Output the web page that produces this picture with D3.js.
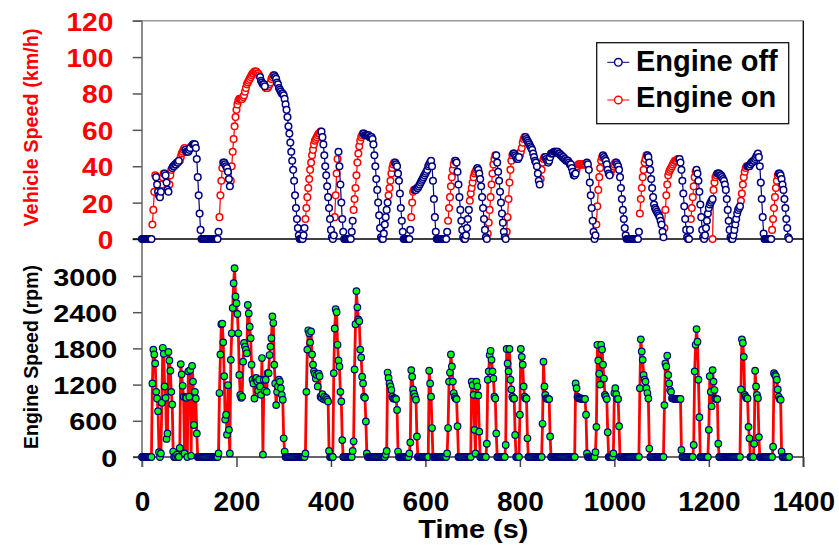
<!DOCTYPE html>
<html><head><meta charset="utf-8">
<script src="https://cdn.jsdelivr.net/npm/d3@7"></script>
<style>
html,body{margin:0;padding:0;background:#fff;}
svg{display:block;}
</style></head><body>
<svg id="chart" width="839" height="548"></svg>
<script>
// ---------------- DATA (one sample every 2 s) ----------------
const sampleStep = 2; // seconds between samples
// Vehicle speed (km/h)
const vehicleSpeed = [
0,0,0,0,0,0,0,0,0,0,0,8,16,26,35,34,30,26,24,23,
26,30,34,36,36,35,31,27,26,30,35,38,39,40,40,41,41,42,42,43,
43,45,47,48,49,50,49,48,48,48,49,50,51,51,52,52,52,50,44,34,
24,14,5,0,0,0,0,0,0,0,0,0,0,0,0,0,0,0,0,0,
0,4,12,24,32,39,42,42,41,40,39,37,33,29,32,40,48,55,62,67,
71,74,76,77,77,77,77,78,79,81,83,85,86,87,88,89,90,91,91,92,
92,92,91,91,90,89,87,86,85,85,84,83,83,83,84,85,86,88,89,90,
90,89,88,86,85,83,82,81,80,80,79,77,74,71,67,62,58,53,48,43,
38,32,24,17,11,6,2,0,0,0,0,2,6,11,17,23,28,33,38,42,
46,49,52,54,55,56,57,58,58,59,59,56,52,46,40,35,29,23,17,11,
5,1,0,2,12,24,36,44,48,40,30,20,11,4,0,0,0,0,0,0,
0,0,4,10,16,22,28,35,42,47,51,54,56,57,58,58,57,57,57,57,
57,56,56,56,55,52,46,40,33,27,20,13,6,1,0,0,3,8,12,16,
20,24,28,32,36,39,41,42,42,41,40,36,32,25,17,10,4,0,0,0,
0,0,0,0,5,12,20,26,27,27,27,28,28,29,30,31,32,33,34,35,
36,37,38,40,41,42,43,40,32,22,12,4,0,0,0,0,0,0,0,0,
0,0,0,4,10,17,23,29,34,38,41,43,43,42,37,30,23,16,10,5,
1,0,0,2,6,11,16,21,25,28,31,34,36,37,38,39,38,36,33,29,
23,17,11,5,1,0,3,9,16,23,30,36,41,44,46,46,42,37,32,26,
20,14,9,4,1,0,4,12,22,31,38,43,46,47,47,46,45,44,44,45,
46,48,50,53,55,56,56,55,54,53,52,51,50,49,47,45,43,42,40,36,
32,30,33,38,42,44,45,45,44,43,42,43,45,47,47,47,48,48,48,48,
48,47,47,46,46,45,45,44,44,43,43,43,42,41,41,39,37,35,35,36,
38,40,41,41,41,41,41,41,41,41,41,42,41,38,31,24,17,10,4,0,
2,8,18,27,34,39,43,45,46,45,44,43,41,38,36,35,36,38,39,40,
41,42,42,41,40,38,34,28,22,16,11,6,2,0,0,0,0,0,0,0,
0,0,0,0,0,0,4,14,22,28,34,38,42,44,46,46,45,42,38,33,
28,23,19,17,16,15,14,13,12,10,8,4,1,6,16,24,30,35,37,38,
39,40,41,42,43,43,43,44,44,44,42,38,32,25,18,11,5,1,0,0,
5,11,17,23,29,34,37,38,36,32,26,19,12,5,1,0,2,6,10,14,
17,19,20,21,22,27,31,34,35,36,36,36,35,35,34,33,32,30,27,22,
16,10,5,1,0,0,2,5,8,11,14,16,17,18,21,25,30,34,37,39,
40,40,40,40,41,42,42,43,43,44,45,46,47,45,40,31,22,12,3,0,
0,0,0,0,0,0,0,5,11,17,23,28,32,35,36,36,35,33,30,27,
22,17,11,6,1,0
];
// Engine speed (rpm)
const engineSpeed = [
0,0,0,0,0,0,0,0,0,0,0,1220,1780,1700,1550,1080,970,760,80,0,
60,900,1810,1710,1170,980,300,390,1740,1600,1430,1080,870,90,0,0,0,40,0,0,
150,1540,1370,1180,1000,60,990,980,0,1420,1000,1440,20,1510,1250,530,1080,970,390,0,
0,0,0,0,0,0,0,0,0,0,0,0,0,0,0,0,0,0,0,0,
0,60,1060,1700,2200,2210,1900,1340,620,700,370,1190,450,60,1610,2050,2470,2880,3130,2660,
2550,2370,2050,1360,1030,980,1000,1580,1890,1830,1780,1720,2520,2380,2160,1970,1530,1280,1220,970,
1300,1310,1250,1100,1280,1170,1030,1640,40,1280,1100,1280,1080,1390,1390,1690,1830,1970,2330,2220,
1530,1220,860,1080,1170,1280,1250,1140,1030,950,310,90,0,0,0,0,0,0,0,0,
0,0,0,0,0,0,0,0,0,0,0,0,0,60,1080,1780,2100,2050,1900,2080,
1700,1530,1420,1380,1300,1360,1170,1380,1340,1000,980,1040,960,1000,950,980,950,920,100,0,
0,0,0,1390,2130,2450,2400,1860,1600,1500,1080,920,280,0,0,0,0,0,0,0,
0,0,0,100,260,1450,2200,2750,2480,2280,2250,1780,1650,1330,1220,1000,980,590,60,0,
0,0,0,0,0,0,0,0,0,0,0,0,0,0,0,0,0,0,40,100,
1400,1310,1220,1170,1110,1000,970,970,970,960,780,90,0,0,0,0,0,0,0,0,
0,0,0,60,240,1440,1330,1120,1050,1000,950,340,0,0,0,0,0,0,0,0,
0,0,0,0,1430,1220,1000,480,0,0,0,0,0,0,0,0,0,0,0,0,
0,0,0,60,480,1250,1400,1700,1500,1250,1060,1000,970,960,510,0,0,0,0,0,
0,0,0,0,0,0,0,0,0,1250,1190,1030,450,60,1250,1170,1020,420,0,0,
0,0,0,0,0,220,1280,1420,1690,1760,1610,1420,1300,1000,970,390,0,0,0,0,
0,0,0,0,0,200,1790,1550,1420,1790,1280,1120,1000,970,970,365,0,0,0,0,
700,1790,1660,1530,1170,1000,970,970,310,0,0,0,0,0,0,0,0,0,0,0,
0,0,0,0,550,1580,1170,1030,970,970,960,960,340,0,0,0,0,0,0,0,
0,0,0,0,0,0,0,0,0,0,0,0,0,0,0,0,0,0,0,1220,
1140,1000,980,970,970,970,965,965,962,962,700,60,0,0,0,0,0,0,0,0,
80,500,1860,1600,1380,1200,1860,1780,1530,1300,1030,1000,960,410,0,0,0,0,0,60,
1060,1140,1040,965,962,510,0,0,0,0,0,0,0,0,0,0,0,0,0,0,
0,0,0,0,0,0,0,1140,1950,1750,1610,1360,1280,1250,1140,1060,970,140,0,0,
0,0,0,0,0,0,0,0,0,0,0,0,0,860,1550,1500,1680,1360,1220,1110,
1080,975,970,965,965,962,962,962,962,962,962,116,0,0,0,0,0,0,0,0,
0,0,0,0,200,1420,1860,2120,1910,1280,660,0,0,0,0,0,0,0,0,0,
450,1340,1080,840,1440,1250,1110,970,960,960,220,0,0,0,0,0,0,0,0,0,
0,0,0,0,0,0,0,0,0,0,0,0,0,0,1120,1950,1890,1660,1030,1000,
975,970,500,310,0,0,0,0,220,1430,1170,1030,975,330,0,0,0,0,0,0,
0,0,0,0,0,0,0,0,170,1390,1360,1340,1280,1120,1000,960,950,90,0,0,
0,0,0,0,0,0
];
// Time intervals (s) drawn as "Engine on"
const engineOnIntervals = [
[22,28],[42,46],[58,62],[80,90],[104,106],[164,170],[188,248],[262,278],
[346,378],[408,414],[448,466],[522,534],[570,576],[648,662],[694,708],
[732,748],[772,784],[800,810],[844,852],[920,940],[962,974],[992,1002],
[1054,1068],[1106,1136],[1162,1172],[1210,1216],[1268,1280],[1334,1346]
];
const engineOnExtra = [[1208,0]]; // isolated "Engine on" point at zero
const timeTicks = [0,200,400,600,800,1000,1200,1400];
const speedTicks = [0,20,40,60,80,100,120];
const rpmTicks = [0,600,1200,1800,2400,3000];
const seriesNames = ["Engine off","Engine on"];
const seriesColors = ["#000080","#ff0000"];
const markerGreen = "#00ff00";

// ---------------- CHART ----------------
const FONT = "'Liberation Sans', Arial, Helvetica, sans-serif";
const svg = d3.select("#chart");
const x = d3.scaleLinear([0,1400],[142,803.3]);
const yTop = d3.scaleLinear([0,120],[239,20.7]);
const yBot = d3.scaleLinear([0,3600],[457,239.8]);

// frame lines
svg.append("line").attr("x1",132.7).attr("x2",803.3).attr("y1",20.7).attr("y2",20.7)
  .attr("stroke","#9a9a9a").attr("stroke-width",1.5);
svg.append("line").attr("x1",803.3).attr("x2",803.3).attr("y1",20.7).attr("y2",467)
  .attr("stroke","#111").attr("stroke-width",1.4);

// top y axis
const gTop = svg.append("g").attr("transform","translate(142,0)")
  .call(d3.axisLeft(yTop).tickValues(speedTicks).tickSize(9.3).tickPadding(19.4).tickFormat(d3.format("d")));
gTop.select(".domain").remove();
gTop.selectAll(".tick line").attr("stroke","#555").attr("stroke-width",1.5);
gTop.selectAll(".tick text").attr("fill","#ff0000").attr("font-family",FONT).attr("font-weight","bold")
  .attr("font-size",25).attr("dy",null).attr("y",9.5)
  .attr("textLength",d=>String(d).length*15.6).attr("lengthAdjust","spacingAndGlyphs");

// bottom y axis
const gBot = svg.append("g").attr("transform","translate(142,0)")
  .call(d3.axisLeft(yBot).tickValues(rpmTicks).tickSize(9).tickPadding(15.7).tickFormat(d3.format("d")));
gBot.select(".domain").remove();
gBot.selectAll(".tick line").attr("stroke","#555").attr("stroke-width",1.5);
gBot.selectAll(".tick text").attr("fill","#000").attr("font-family",FONT).attr("font-weight","bold")
  .attr("font-size",23.5).attr("dy",null).attr("y",9)
  .attr("textLength",d=>String(d).length*16).attr("lengthAdjust","spacingAndGlyphs");

// x axis (bottom)
const gX = svg.append("g").attr("transform","translate(0,457)")
  .call(d3.axisBottom(x).tickValues(timeTicks).tickSize(10).tickFormat(d3.format("d")));
gX.select(".domain").remove();
gX.selectAll(".tick line").attr("stroke","#444").attr("stroke-width",1.5);
gX.selectAll(".tick text").attr("fill","#000").attr("font-family",FONT).attr("font-weight","bold")
  .attr("font-size",28).attr("dy",null).attr("y",54);

// left axis line, x axis lines
svg.append("line").attr("x1",142).attr("x2",142).attr("y1",20.7).attr("y2",467)
  .attr("stroke","#666").attr("stroke-width",1.5);
svg.append("line").attr("x1",132.7).attr("x2",803.3).attr("y1",yTop(0)).attr("y2",yTop(0))
  .attr("stroke","#000").attr("stroke-width",1.5);
svg.append("line").attr("x1",133).attr("x2",803.3).attr("y1",yBot(0)).attr("y2",yBot(0))
  .attr("stroke","#333").attr("stroke-width",1.5);

// titles
svg.append("text").attr("transform","translate(38,127.5) rotate(-90)").attr("text-anchor","middle")
  .attr("font-family",FONT).attr("font-weight","bold").attr("font-size",19.7).attr("fill","#ff0000")
  .attr("textLength",198).attr("lengthAdjust","spacingAndGlyphs").text("Vehicle Speed (km/h)");
svg.append("text").attr("transform","translate(38,357) rotate(-90)").attr("text-anchor","middle")
  .attr("font-family",FONT).attr("font-weight","bold").attr("font-size",19.5).attr("fill","#000")
  .attr("textLength",184).attr("lengthAdjust","spacingAndGlyphs").text("Engine Speed (rpm)");
svg.append("text").attr("x",473.3).attr("y",538).attr("text-anchor","middle")
  .attr("font-family",FONT).attr("font-weight","bold").attr("font-size",26).attr("fill","#000")
  .attr("textLength",110).attr("lengthAdjust","spacingAndGlyphs").text("Time (s)");

// ---------------- data prep ----------------
const samples = vehicleSpeed.map((v,i)=>({t:i*sampleStep, v, rpm:engineSpeed[i]}));
const isOn = t => engineOnIntervals.some(([a,b]) => t>=a && t<=b);
const offPts = samples.filter(d=>!isOn(d.t)).map(d=>({t:d.t,v:d.v}));
const onPts = samples.filter(d=>isOn(d.t)).map(d=>({t:d.t,v:d.v}))
  .concat(engineOnExtra.map(([t,v])=>({t,v}))).sort((a,b)=>a.t-b.t);
function segments(pts){
  const segs=[]; let cur=[];
  pts.forEach((p,i)=>{ if(i>0 && p.t-pts[i-1].t>sampleStep){segs.push(cur);cur=[];} cur.push(p); });
  if(cur.length) segs.push(cur);
  return segs;
}
const lineTop = d3.line().x(d=>x(d.t)).y(d=>yTop(d.v));

function drawSpeedSeries(pts,color){
  const g = svg.append("g");
  g.selectAll("path").data(segments(pts)).join("path")
    .attr("d",lineTop).attr("fill","none").attr("stroke",color).attr("stroke-width",1.2);
  g.selectAll("circle").data(pts).join("circle")
    .attr("cx",d=>x(d.t)).attr("cy",d=>yTop(d.v)).attr("r",3.3)
    .attr("fill","#fff").attr("stroke",color).attr("stroke-width",1.5);
}
drawSpeedSeries(onPts, seriesColors[1]);
drawSpeedSeries(offPts, seriesColors[0]);

// engine speed
const lineBot = d3.line().x(d=>x(d.t)).y(d=>yBot(d.rpm));
svg.append("path").datum(samples).attr("d",lineBot).attr("fill","none")
  .attr("stroke","#ff0000").attr("stroke-width",2.8).attr("stroke-linejoin","round");
svg.append("g").selectAll("circle").data(samples).join("circle")
  .attr("cx",d=>x(d.t)).attr("cy",d=>yBot(d.rpm)).attr("r",3.3)
  .attr("fill",markerGreen).attr("stroke","#000080").attr("stroke-width",1.2);

// ---------------- legend ----------------
const lg = svg.append("g");
lg.append("rect").attr("x",596.7).attr("y",42.7).attr("width",192).attr("height",81)
  .attr("fill","#fff").attr("stroke","#111").attr("stroke-width",1.3);
const legendY = [62.3, 100];
const legendBase = [70.7, 106.5];
seriesNames.forEach((name,i)=>{
  lg.append("line").attr("x1",607.3).attr("x2",629.3).attr("y1",legendY[i]).attr("y2",legendY[i])
    .attr("stroke",seriesColors[i]).attr("stroke-width",1);
  lg.append("circle").attr("cx",618.3).attr("cy",legendY[i]).attr("r",3.8)
    .attr("fill","#fff").attr("stroke",seriesColors[i]).attr("stroke-width",1.4);
  lg.append("text").attr("x",636).attr("y",legendBase[i]).attr("font-family",FONT)
    .attr("font-weight","bold").attr("font-size",29).attr("fill","#000").text(name);
});
</script>
</body></html>
